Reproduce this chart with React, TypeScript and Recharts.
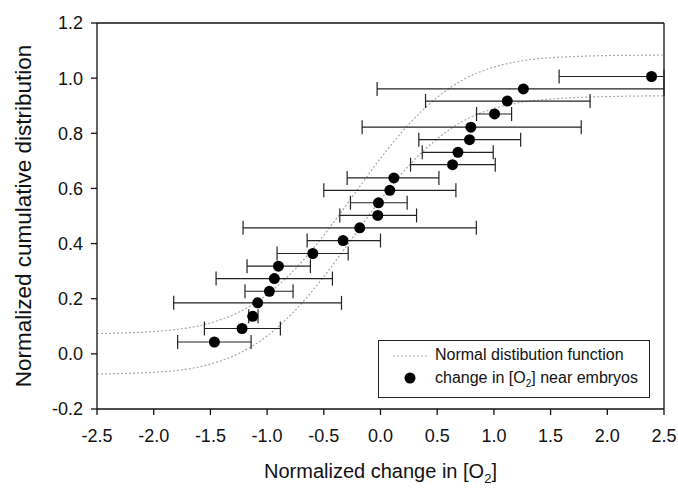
import React from 'react';
import {
  ComposedChart, Line, Scatter, XAxis, YAxis, ErrorBar, ReferenceLine, Legend, Label,
} from 'recharts';

// Normal distribution bounds
const curveX = [-2.5, -2.25, -2.0, -1.75, -1.5, -1.25, -1.0, -0.75, -0.5, -0.25, 0.0, 0.25, 0.5, 0.75, 1.0, 1.25, 1.5, 1.75, 2.0, 2.25, 2.5];
const upperCurve = [0.074, 0.076, 0.081, 0.091, 0.112, 0.151, 0.215, 0.309, 0.430, 0.569, 0.709, 0.833, 0.930, 0.999, 1.040, 1.063, 1.074, 1.079, 1.082, 1.083, 1.084];
const lowerCurve = [-0.073, -0.071, -0.067, -0.058, -0.037, 0.001, 0.065, 0.159, 0.280, 0.419, 0.559, 0.683, 0.780, 0.849, 0.890, 0.913, 0.924, 0.930, 0.933, 0.935, 0.936];

// Observations: change in [O2] near embryos
const obsX = [-1.465, -1.221, -1.127, -1.083, -0.98, -0.936, -0.9, -0.597, -0.33, -0.183, -0.024, -0.018, 0.082, 0.118, 0.635, 0.683, 0.785, 0.797, 1.006, 1.118, 1.26, 2.39];
const obsY = [0.043, 0.092, 0.136, 0.185, 0.227, 0.273, 0.318, 0.364, 0.411, 0.457, 0.502, 0.548, 0.593, 0.638, 0.686, 0.731, 0.777, 0.822, 0.870, 0.917, 0.961, 1.006];
const obsLo = [-1.789, -1.553, -1.162, -1.824, -1.195, -1.45, -1.177, -0.912, -0.647, -1.212, -0.359, -0.265, -0.5, -0.294, 0.265, 0.368, 0.338, -0.162, 0.847, 0.397, -0.03, 1.575];
const obsHi = [-1.141, -0.883, -1.08, -0.344, -0.771, -0.424, -0.618, -0.285, 0.0, 0.845, 0.318, 0.235, 0.665, 0.515, 1.012, 0.994, 1.236, 1.77, 1.156, 1.848, 2.5, 2.5];

const xTicks = [-2.5, -2.0, -1.5, -1.0, -0.5, 0.0, 0.5, 1.0, 1.5, 2.0, 2.5];
const yTicks = [-0.2, 0.0, 0.2, 0.4, 0.6, 0.8, 1.0, 1.2];

const upperData = curveX.map((x, i) => ({ x, y: upperCurve[i] }));
const lowerData = curveX.map((x, i) => ({ x, y: lowerCurve[i] }));
const obsData = obsX.map((x, i) => ({ x, y: obsY[i], err: [x - obsLo[i], obsHi[i] - x] }));

const FONT = '"Liberation Sans", Arial, Helvetica, sans-serif';

const XTitle = (props: any) => {
  const vb = props.viewBox || {};
  const cx = vb.x + vb.width / 2;
  return (
    <text x={cx} y={vb.y + 69} textAnchor="middle" fontSize={20} fontFamily={FONT} fill="#111">
      Normalized change in [O<tspan dy={5} fontSize={13}>2</tspan><tspan dy={-5}>]</tspan>
    </text>
  );
};

const YTitle = (props: any) => {
  const vb = props.viewBox || {};
  const cy = vb.y + vb.height / 2;
  const cx = 23;
  return (
    <text x={cx} y={cy} textAnchor="middle" dominantBaseline="central" fontSize={22.5} fontFamily={FONT} fill="#111"
      transform={`rotate(-90, ${cx}, ${cy})`}>
      Normalized cumulative distribution
    </text>
  );
};

const LegendBox = () => (
  <div style={{
    border: '1.3px solid #222', width: 272, height: 58, boxSizing: 'border-box', background: '#fff',
    fontFamily: FONT, fontSize: 16, color: '#111', position: 'relative',
  }}>
    <svg width={40} height={58} style={{ position: 'absolute', left: 10, top: 0 }}>
      <line x1={4} y1={15} x2={40} y2={15} stroke="#aaa" strokeWidth={1} strokeDasharray="2 2" />
      <circle cx={21} cy={37} r={5.5} fill="#000" />
    </svg>
    <div style={{ position: 'absolute', left: 56, top: 5, whiteSpace: 'nowrap' }}>Normal distibution function</div>
    <div style={{ position: 'absolute', left: 56, top: 28, whiteSpace: 'nowrap' }}>
      change in [O<sub style={{ fontSize: 10 }}>2</sub>] near embryos
    </div>
  </div>
);

export default function App() {
  return (
    <div style={{ position: 'absolute', left: 0, top: 0, background: '#fff' }}>
      <ComposedChart width={678} height={489} margin={{ top: 23, right: 14, left: 0, bottom: 0 }}>
        <XAxis
          dataKey="x" type="number" domain={[-2.5, 2.5]} ticks={xTicks} allowDataOverflow
          tickFormatter={(v: number) => v.toFixed(1)} height={80}
          tick={{ fontSize: 18, fontFamily: FONT, fill: '#111' }}
          tickSize={6} tickMargin={14} stroke="#111" strokeWidth={1.3}
        >
          <Label content={<XTitle />} />
        </XAxis>
        <YAxis
          dataKey="y" type="number" domain={[-0.2, 1.2]} ticks={yTicks} allowDataOverflow
          tickFormatter={(v: number) => v.toFixed(1)} width={97}
          tick={{ fontSize: 18, fontFamily: FONT, fill: '#111' }}
          tickSize={6} tickMargin={8} stroke="#111" strokeWidth={1.3}
        >
          <Label content={<YTitle />} />
        </YAxis>
        <ReferenceLine y={1.2} stroke="#111" strokeWidth={1.3} />
        <ReferenceLine x={2.5} stroke="#111" strokeWidth={1.3} />
        <Line data={upperData} dataKey="y" type="monotone" dot={false} stroke="#a8a8a8" strokeWidth={1.2}
          strokeDasharray="2 2" isAnimationActive={false} legendType="none" />
        <Line data={lowerData} dataKey="y" type="monotone" dot={false} stroke="#a8a8a8" strokeWidth={1.2}
          strokeDasharray="2 2" isAnimationActive={false} legendType="none" />
        <Scatter data={obsData} dataKey="y" fill="#000" isAnimationActive={false}
          shape={(p: any) => <circle cx={p.cx} cy={p.cy} r={5.5} fill="#000" />}>
          <ErrorBar dataKey="err" direction="x" width={7} stroke="#222" strokeWidth={1.2} />
        </Scatter>
        <Legend
          layout="horizontal" verticalAlign="middle" align="center"
          wrapperStyle={{ left: 378, top: 340, width: 272, height: 58 }}
          content={() => <LegendBox />}
        />
      </ComposedChart>
    </div>
  );
}
